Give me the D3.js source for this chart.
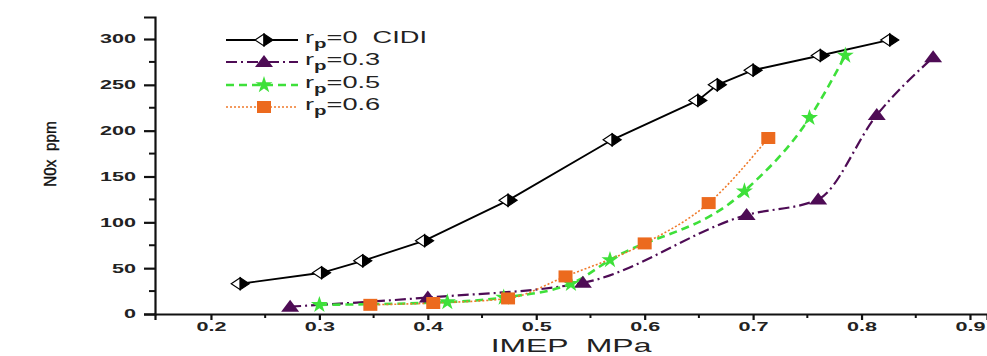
<!DOCTYPE html>
<html>
<head>
<meta charset="utf-8">
<script src="https://cdn.jsdelivr.net/npm/d3@7"></script>
<style>
  body { margin: 0; background: #fff; }
  svg { display: block; font-family: "Liberation Sans", Arial, sans-serif; }
  text { white-space: pre; }
</style>
</head>
<body>
<svg></svg>
<script>
// data
const cidiX = [0.227, 0.302, 0.340, 0.397, 0.474, 0.570, 0.649, 0.667, 0.700, 0.762, 0.826];
const cidiY = [33, 45, 58, 80, 124, 190, 233, 250, 266, 282, 299];

const rp03X = [0.273, 0.400, 0.543, 0.694, 0.760, 0.814, 0.866];
const rp03Y = [8, 18, 34, 108, 125, 217, 280];

const rp05X = [0.300, 0.418, 0.470, 0.532, 0.568, 0.692, 0.752, 0.785];
const rp05Y = [10, 13, 18, 33, 59, 134, 214, 282];

const rp06X = [0.347, 0.405, 0.474, 0.527, 0.600, 0.659, 0.714];
const rp06Y = [10, 12, 17, 41, 77, 121, 192];

const seriesNames = ['=0  CIDI', '=0.3', '=0.5', '=0.6'];
const xTicks = [0.2, 0.3, 0.4, 0.5, 0.6, 0.7, 0.8, 0.9];
const yTicks = [0, 50, 100, 150, 200, 250, 300];

const width = 987;
const height = 356;
const stretch = 1.8;

let svg = d3.select('svg').attr('width', width).attr('height', height);

let xScale = d3.scaleLinear().domain([0.1484, 0.9157]).range([155, 987]);
let yScale = d3.scaleLinear().domain([0, 324]).range([314, 17]);

let series = [
    { name: seriesNames[0], xs: cidiX, ys: cidiY, color: '#000', dash: null, lw: 1.8, marker: 'halfdiamond', curve: d3.curveLinear },
    { name: seriesNames[1], xs: rp03X, ys: rp03Y, color: '#4e0c55', dash: '11,4,2,4', lw: 2.2, marker: 'triangle', curve: d3.curveMonotoneX },
    { name: seriesNames[2], xs: rp05X, ys: rp05Y, color: '#3ee03a', dash: '8,5', lw: 2.6, marker: 'star', curve: d3.curveMonotoneX },
    { name: seriesNames[3], xs: rp06X, ys: rp06Y, color: '#f07a2a', dash: '2,2', lw: 1.6, marker: 'square', curve: d3.curveMonotoneX }
];

const markerFill = { triangle: '#4e0c55', star: '#3ee03a', square: '#ec6a1e' };

let drawMarker = (g, type, x, y) => {
    if (type === 'halfdiamond') {
        g.append('path')
            .attr('d', `M${x},${y - 6} L${x - 9},${y} L${x},${y + 6} Z`)
            .attr('fill', '#fff').attr('stroke', '#000').attr('stroke-width', 1.2);
        g.append('path')
            .attr('d', `M${x},${y - 6} L${x + 9},${y} L${x},${y + 6} Z`)
            .attr('fill', '#000').attr('stroke', '#000').attr('stroke-width', 1.2);
    } else if (type === 'triangle') {
        g.append('path')
            .attr('d', `M${x},${y - 7} L${x + 9},${y + 5} L${x - 9},${y + 5} Z`)
            .attr('fill', markerFill.triangle);
    } else if (type === 'star') {
        g.append('path')
            .attr('d', d3.symbol().type(d3.symbolStar).size(90)())
            .attr('transform', `translate(${x},${y})`)
            .attr('fill', markerFill.star);
    } else {
        g.append('rect')
            .attr('x', x - 7).attr('y', y - 6).attr('width', 14).attr('height', 12)
            .attr('fill', markerFill.square);
    }
};

// axes
let xAxis = d3.axisBottom(xScale).tickValues(xTicks).tickSize(6).tickFormat(d3.format('.1f'));
let yAxis = d3.axisLeft(yScale).tickValues(yTicks).tickSize(11).tickFormat(d3.format('d'));

let minorX = d3.range(0.25, 0.9, 0.1);
let minorY = d3.range(25, 300, 50);

svg.append('g')
    .attr('transform', 'translate(0,314)')
    .selectAll('line').data(minorX).enter().append('line')
    .attr('x1', d => xScale(d)).attr('x2', d => xScale(d))
    .attr('y1', 0).attr('y2', 4)
    .attr('stroke', '#111').attr('stroke-width', 2);

svg.append('g')
    .attr('transform', 'translate(155,0)')
    .selectAll('line').data(minorY).enter().append('line')
    .attr('y1', d => yScale(d)).attr('y2', d => yScale(d))
    .attr('x1', 0).attr('x2', -6)
    .attr('stroke', '#111').attr('stroke-width', 2);

let gx = svg.append('g')
    .attr('transform', 'translate(0,314)')
    .call(xAxis);
gx.select('.domain').attr('stroke', '#111').attr('stroke-width', 2.2);
gx.selectAll('.tick line').attr('stroke', '#111').attr('stroke-width', 2.2);
gx.selectAll('.tick text')
    .attr('y', 8.5).attr('dy', '0.71em')
    .attr('transform', `scale(${stretch},1)`)
    .style('font-size', '12px').style('font-weight', 'bold').attr('fill', '#222');

let gy = svg.append('g')
    .attr('transform', 'translate(155,0)')
    .call(yAxis);
gy.select('.domain').attr('stroke', '#111').attr('stroke-width', 2.2);
gy.selectAll('.tick line').attr('stroke', '#111').attr('stroke-width', 2.2);
gy.selectAll('.tick text')
    .attr('x', -19 / stretch)
    .attr('transform', `scale(${stretch},1)`)
    .style('font-size', '12px').style('font-weight', 'bold').attr('fill', '#222');

// axis titles
svg.append('text')
    .attr('transform', `translate(571,352) scale(1.68,1)`)
    .attr('text-anchor', 'middle')
    .style('font-size', '19px')
    .attr('fill', '#222')
    .text('IMEP  MPa');

svg.append('text')
    .attr('transform', 'translate(56,154) rotate(-90) scale(0.9,1)')
    .attr('text-anchor', 'middle')
    .style('font-size', '17px')
    .attr('fill', '#111')
    .attr('stroke', '#111').attr('stroke-width', 0.4)
    .text('N0x  ppm');

// lines and markers
series.forEach(s => {
    let pts = s.xs.map((x, i) => [x, s.ys[i]]);
    let line = d3.line()
        .x(d => xScale(d[0]))
        .y(d => yScale(d[1]))
        .curve(s.curve);
    svg.append('path')
        .attr('d', line(pts))
        .attr('fill', 'none')
        .attr('stroke', s.color)
        .attr('stroke-width', s.lw)
        .attr('stroke-dasharray', s.dash);
});

series.forEach(s => {
    let g = svg.append('g');
    s.xs.forEach((x, i) => drawMarker(g, s.marker, xScale(x), yScale(s.ys[i])));
});

// legend
let legendY = [40, 62, 85, 107];
series.forEach((s, i) => {
    let ly = legendY[i];
    let g = svg.append('g');
    g.append('line')
        .attr('x1', 226).attr('x2', 298)
        .attr('y1', ly).attr('y2', ly)
        .attr('stroke', s.color)
        .attr('stroke-width', s.lw)
        .attr('stroke-dasharray', s.dash);
    drawMarker(g, s.marker, 264, ly);
    let t = g.append('text')
        .attr('transform', `translate(305,${ly + 3}) scale(1.7,1)`)
        .style('font-size', '16px')
        .attr('fill', '#222');
    t.append('tspan').text('r');
    t.append('tspan').attr('dy', 5).style('font-size', '12px').style('font-weight', 'bold').text('p');
    t.append('tspan').attr('dy', -5).text(s.name);
});
</script>
</body>
</html>
